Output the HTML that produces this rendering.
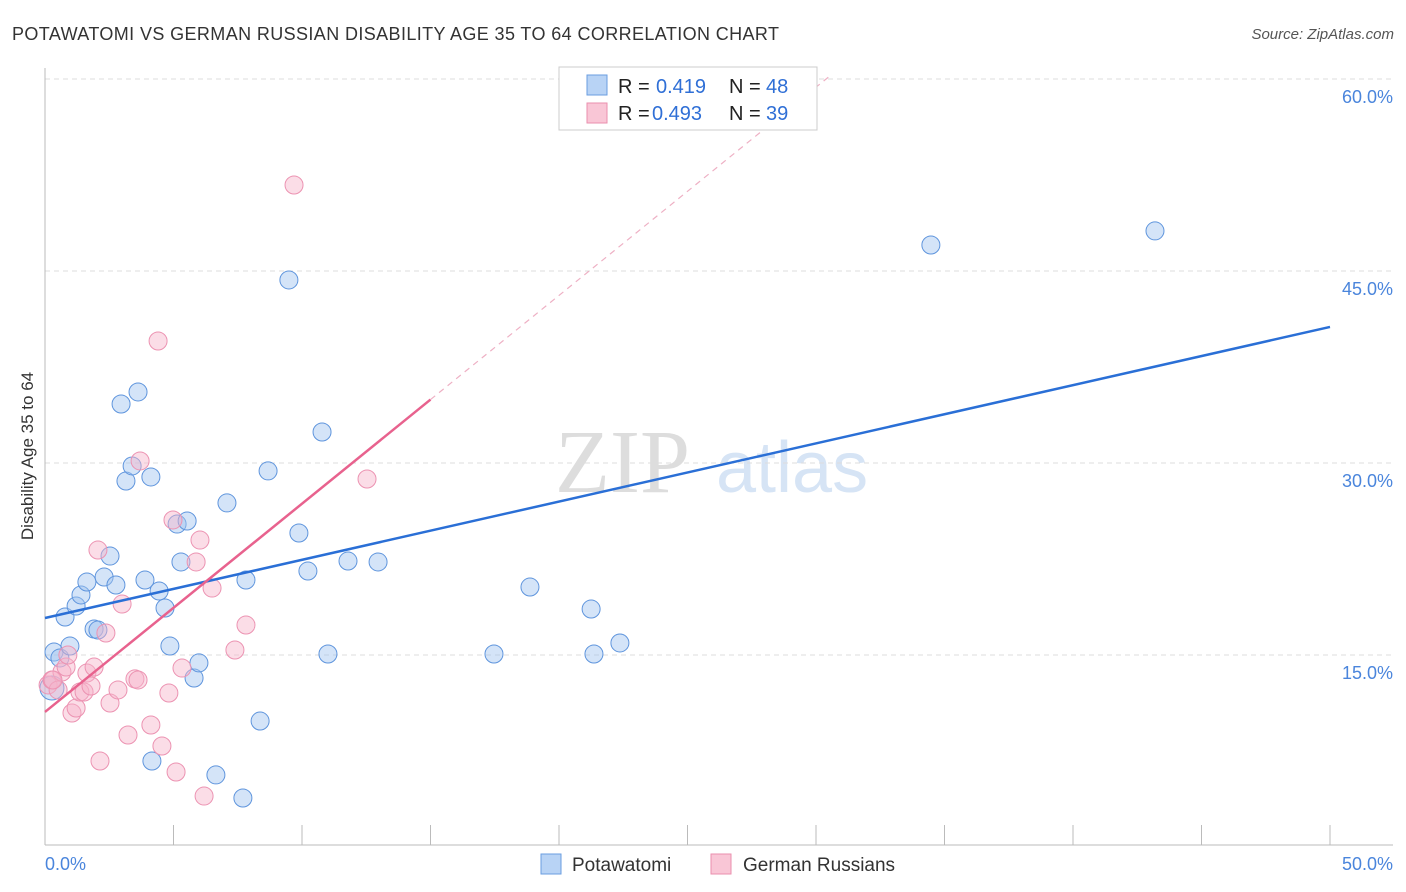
<!DOCTYPE html>
<html><head><meta charset="utf-8"><style>
body{margin:0;background:#fff;font-family:"Liberation Sans",sans-serif;}
svg{display:block}
</style></head><body>
<svg id="c" width="1406" height="892">
<text x="12" y="40" font-size="18" fill="#333" textLength="767">POTAWATOMI VS GERMAN RUSSIAN DISABILITY AGE 35 TO 64 CORRELATION CHART</text>
<text x="1394" y="39" font-size="15" fill="#555" font-style="italic" text-anchor="end">Source: ZipAtlas.com</text>
<text x="33" y="456" font-size="17" fill="#333" text-anchor="middle" transform="rotate(-90 33 456)">Disability Age 35 to 64</text>
<text x="555" y="492" font-size="90" fill="#ddd" font-family="Liberation Serif,serif">ZIP</text>
<text x="716" y="492" font-size="72" fill="#d6e4f5">atlas</text>
<g id="grid"></g><g id="axes"></g><g id="marks"></g><g id="lines"></g>
<g>
<rect x="559" y="67" width="258" height="63" fill="#fff" stroke="#ccc"/>
<rect x="587" y="75" width="20" height="20" fill="#b8d3f5" stroke="#6a9ee0"/>
<rect x="587" y="103" width="20" height="20" fill="#f9c6d6" stroke="#ea8fae"/>
<text x="618" y="93" font-size="20" fill="#222">R =<tspan x="656" fill="#2f6fd6">0.419</tspan><tspan x="729">N =</tspan><tspan x="766" fill="#2f6fd6">48</tspan></text>
<text x="618" y="120" font-size="20" fill="#222">R =<tspan x="652" fill="#2f6fd6">0.493</tspan><tspan x="729">N =</tspan><tspan x="766" fill="#2f6fd6">39</tspan></text>
</g>
<g>
<rect x="541" y="854" width="20" height="20" fill="#b8d3f5" stroke="#6a9ee0"/>
<text x="572" y="871" font-size="19" fill="#333">Potawatomi</text>
<rect x="711" y="854" width="20" height="20" fill="#f9c6d6" stroke="#ea8fae"/>
<text x="743" y="871" font-size="19" fill="#333">German Russians</text>
</g>
</svg>
<script>
const blueX=[0.35,0.58,0.27,0.97,0.78,1.21,1.40,1.63,1.91,2.06,2.30,2.53,2.76,2.96,3.15,3.39,3.62,3.89,4.12,4.16,4.44,4.67,4.86,5.14,5.29,5.53,5.80,5.99,6.65,7.08,7.70,7.82,8.37,8.68,9.49,9.88,10.23,10.78,11.01,11.79,12.96,17.47,18.87,21.25,21.36,22.37,34.47,43.19];
const blueY=[15.23,14.77,12.42,15.70,17.97,18.83,19.69,20.70,17.03,16.95,21.09,22.73,20.47,34.61,28.59,29.77,35.55,20.86,28.91,6.72,20.0,18.67,15.70,25.23,22.27,25.47,13.20,14.38,5.63,26.88,3.83,20.86,9.84,29.38,44.30,24.53,21.56,32.42,15.08,22.34,22.27,15.08,20.31,18.59,15.08,15.94,47.03,48.13];
const pinkX=[0.12,0.27,0.51,0.66,0.82,0.89,1.05,1.21,1.36,1.52,1.63,1.79,1.91,2.06,2.14,2.37,2.53,2.84,3.0,3.23,3.50,3.62,3.70,4.12,4.40,4.55,4.82,4.98,5.10,5.33,5.88,6.03,6.19,6.50,7.39,7.82,9.69,12.53,0.31];
const pinkY=[12.66,13.05,12.27,13.67,14.06,15.0,10.47,10.86,12.11,12.11,13.59,12.58,14.06,23.20,6.72,16.72,11.25,12.27,18.98,8.75,13.13,13.05,30.16,9.53,39.53,7.89,12.03,25.55,5.86,13.98,22.27,23.98,3.98,20.23,15.39,17.34,51.72,28.75,13.05];
const blueLine=[17.89,40.63];
const pinkLine=[10.55,1.627];
const yTicks=[15,30,45,60];
const xTickLabels=["0.0%","50.0%"];
const NS="http://www.w3.org/2000/svg";
const sx=v=>45+v*25.7, sy=v=>847-v*12.8;
function mk(tag,parent,attrs){const e=document.createElementNS(NS,tag);for(const k in attrs)e.setAttribute(k,attrs[k]);document.getElementById(parent).appendChild(e);return e;}
yTicks.forEach(t=>{
 const l=mk('line','grid',{x1:45,x2:1393,y1:sy(t),y2:sy(t),stroke:'#ddd','stroke-dasharray':'5,4'});
 
 
 const tx=mk('text','grid',{x:1393,y:sy(t)+24,'font-size':18,fill:'#4a85dc','text-anchor':'end'});
 tx.textContent=t.toFixed(1)+'%';
 
 
});
const ya=mk('line','axes',{x1:45,x2:45,y1:68,y2:845,stroke:'#bbb'});


const xa=mk('line','axes',{x1:45,x2:1393,y1:845,y2:845,stroke:'#bbb'});


for(let i=0;i<=10;i++){const t=mk('line','axes',{x1:sx(i*5),x2:sx(i*5),y1:825,y2:845,stroke:'#bbb'});
 
 }
[[0,xTickLabels[0],'start',45],[50,xTickLabels[1],'end',1393]].forEach(a=>{const t=mk('text','axes',{x:a[3],y:870,'font-size':18,fill:'#4a85dc','text-anchor':a[2]});t.textContent=a[1];
 
 });
blueX.forEach((x,i)=>{const c=mk('circle','marks',{cx:sx(x),cy:sy(blueY[i]),r:i==2?12:9,fill:'rgba(160,196,240,0.45)',stroke:'#5f95dd','stroke-width':1});
 
 });
pinkX.forEach((x,i)=>{const c=mk('circle','marks',{cx:sx(x),cy:sy(pinkY[i]),r:9,fill:'rgba(246,180,202,0.45)',stroke:'#ec93b2','stroke-width':1});
 
 });
const bl=mk('line','lines',{x1:sx(0),y1:sy(blueLine[0]),x2:sx(50),y2:sy(blueLine[1]),stroke:'#2a6fd6','stroke-width':2.5});


const pl=mk('line','lines',{x1:sx(0),y1:sy(pinkLine[0]),x2:sx(15),y2:sy(pinkLine[0]+15*pinkLine[1]),stroke:'#e8628e','stroke-width':2.5});


const pd=mk('line','lines',{x1:sx(15),y1:sy(pinkLine[0]+15*pinkLine[1]),x2:sx(30.5),y2:sy(pinkLine[0]+30.5*pinkLine[1]),stroke:'#eeb0c4','stroke-width':1.2,'stroke-dasharray':'6,5'});


</script>
</body></html>
